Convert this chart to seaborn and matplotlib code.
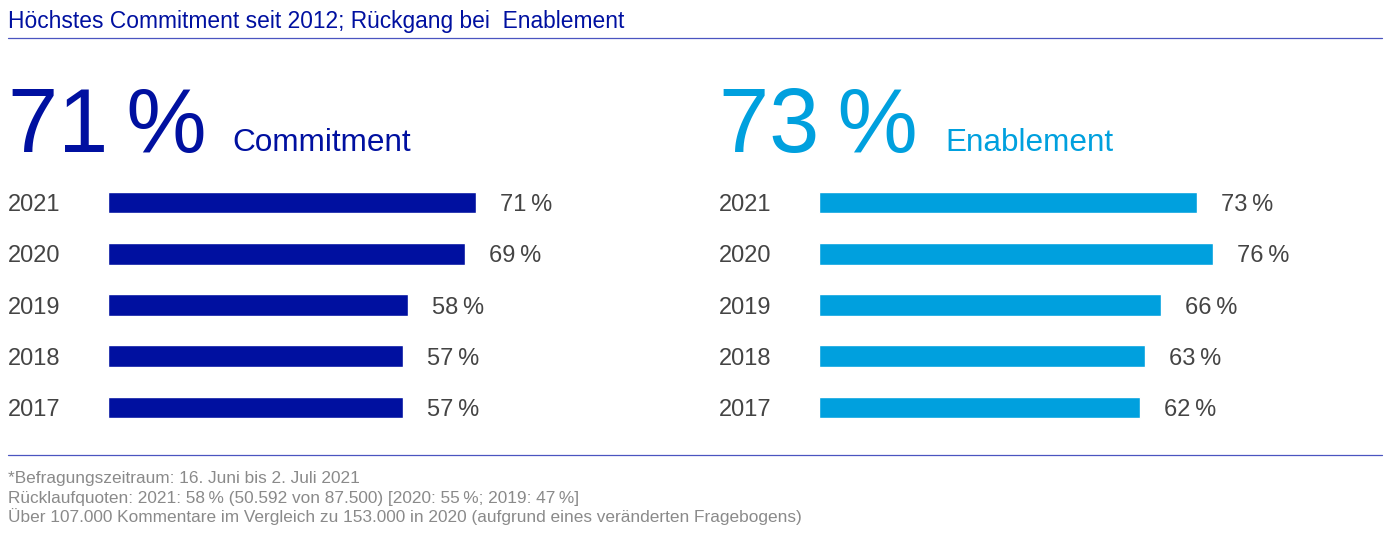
import matplotlib
matplotlib.use('Agg')
import matplotlib.pyplot as plt
from matplotlib.lines import Line2D
import seaborn as sns

# data
years = ['2021', '2020', '2019', '2018', '2017']
commitment = [71, 69, 58, 57, 57]
enablement = [73, 76, 66, 63, 62]
commitment_now = '71\u2009%'
enablement_now = '73\u2009%'
title = 'Höchstes Commitment seit 2012; Rückgang bei  Enablement'
footnotes = [
    '*Befragungszeitraum: 16. Juni bis 2. Juli 2021',
    'Rücklaufquoten: 2021: 58\u2009% (50.592 von 87.500) [2020: 55\u2009%; 2019: 47\u2009%]',
    'Über 107.000 Kommentare im Vergleich zu 153.000 in 2020 (aufgrund eines veränderten Fragebogens)',
]

dark_blue = '#0010a0'
light_blue = '#00a0de'
gray_text = '#444444'
rule_color = '#4a55c0'

sns.set_style('white')
plt.rcParams['font.family'] = ['Liberation Sans', 'DejaVu Sans']

W, H = 1390, 535
fig = plt.figure(figsize=(W / 100, H / 100), dpi=100)


def fx(x):
    return x / W


def fy(y):
    return 1 - y / H


px_per_unit = 5.18
row = 51.25
ax_w = 500
ax_top = 202.5 - row / 2
ax_h = row * 5


def panel(left, values, color):
    ax = fig.add_axes([fx(left), fy(ax_top + ax_h), ax_w / W, ax_h / H])
    sns.barplot(x=values, y=years, orient='h', color=color, saturation=1,
                width=0.42, ax=ax)
    ax.set_xlim(0, ax_w / px_per_unit)
    ax.set_ylim(4.5, -0.5)
    labels = ax.bar_label(ax.containers[0], labels=[f'{v}\u2009%' for v in values],
                          padding=17.3, fontsize=17, color=gray_text)
    for t in labels:
        t.set_va('center_baseline')
    ax.set_xticks([])
    ax.tick_params(axis='y', length=0, pad=72, labelsize=17, labelcolor=gray_text)
    plt.setp(ax.get_yticklabels(), ha='left')
    ax.set_xlabel('')
    ax.set_ylabel('')
    sns.despine(ax=ax, left=True, bottom=True)
    ax.patch.set_alpha(0)
    return ax


panel(108, commitment, dark_blue)
panel(819, enablement, light_blue)

# header
fig.text(fx(8), fy(28), title, fontsize=16.4, color=dark_blue, va='baseline')
fig.add_artist(Line2D([fx(8), fx(1382)], [fy(38), fy(38)], color=rule_color, lw=0.9))

fig.text(fx(8), fy(152), commitment_now, fontsize=65, color=dark_blue, va='baseline')
fig.text(fx(232), fy(151), 'Commitment', fontsize=22.7, color=dark_blue, va='baseline')
fig.text(fx(719), fy(152), enablement_now, fontsize=65, color=light_blue, va='baseline')
fig.text(fx(945), fy(151), 'Enablement', fontsize=22.7, color=light_blue, va='baseline')

# footer
fig.add_artist(Line2D([fx(8), fx(1382)], [fy(455), fy(455)], color=rule_color, lw=0.9))
for i, line in enumerate(footnotes):
    fig.text(fx(8), fy(483 + i * 19.5), line, fontsize=12.4, color='#8a8a8a',
             va='baseline')

fig.savefig('out.png', dpi=100)
